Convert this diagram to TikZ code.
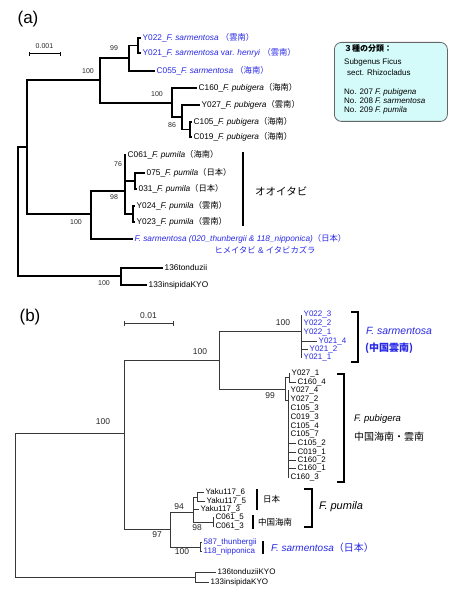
\documentclass[tikz,border=0pt]{standalone}
\usepackage{fontspec}
\setmainfont{Liberation Sans}
\newfontfamily\jp{Noto Sans CJK JP}
\definecolor{tblue}{RGB}{40,40,230}
\definecolor{boxfill}{RGB}{212,250,250}
\newcommand\mkleaf[5]{\coordinate (#1) at (#2,#3); \node[#4] (L#1) at ([xshift=1.5pt]#1) {#5};}
\begin{document}
\begin{tikzpicture}[x=1pt,y=-1pt,
  ea/.style={line width=1.7pt},
  eb/.style={line width=0.9pt,draw=black!78},
  la/.style={anchor=west,inner sep=0pt,font=\fontsize{8.3}{9}\selectfont},
  lb/.style={anchor=west,inner sep=0pt,font=\fontsize{8}{8}\selectfont},
  sa/.style={inner sep=0pt,font=\fontsize{7}{8}\selectfont,text=black!85},
  sb/.style={inner sep=0pt,font=\fontsize{8.5}{9}\selectfont,text=black!85},
  brk/.style={line width=1.8pt},
  panel/.style={inner sep=0pt,font=\fontsize{17}{18}\selectfont},
  lg/.style={anchor=west,inner sep=0pt,font=\fontsize{8}{9}\selectfont},
]
\useasboundingbox (0,0) rectangle (450,601);

% ================= panel (a) =================
\node[panel] (pa) at (28,19) {(a)};
\coordinate (sa1) at (29,54); \coordinate (sa2) at (60,54);
\draw[line width=1pt] (sa1) -- (sa2);
\draw[line width=1pt] ([yshift=-2pt]sa1) -- ([yshift=2pt]sa1);
\draw[line width=1pt] ([yshift=-2pt]sa2) -- ([yshift=2pt]sa2);
\node[sa] (sal) at (44.5,46) {0.001};

\coordinate (a0) at (18,211);
\coordinate (aIn) at (27,147);
\coordinate (aOut) at (121,276);
\coordinate (aSP) at (100,80);
\coordinate (aPm) at (91,214);
\coordinate (aSar) at (129,58);
\coordinate (aY) at (138,45.5);
\coordinate (aPb) at (172,103);
\coordinate (aPb2) at (182,117);
\coordinate (aPb3) at (190,129.5);
\coordinate (aPm2) at (125,191);
\coordinate (aP75) at (135,181);
\coordinate (aPY) at (133,214);

\mkleaf{tY022}{141}{38}{la,text=tblue}{Y022\_\textit{F. sarmentosa} {\jp （雲南）}}
\mkleaf{tY021}{141}{53}{la,text=tblue}{Y021\_\textit{F. sarmentosa} var. \textit{henryi} {\jp （雲南）}}
\mkleaf{tC055}{155}{71}{la,text=tblue}{C055\_\textit{F. sarmentosa} {\jp （海南）}}
\mkleaf{tC160}{197}{88}{la}{C160\_\textit{F. pubigera}{\jp （海南）}}
\mkleaf{tY027}{200}{105}{la}{Y027\_\textit{F. pubigera}{\jp （雲南）}}
\mkleaf{tC105}{192}{122}{la}{C105\_\textit{F. pubigera}{\jp （海南）}}
\mkleaf{tC019}{192}{137}{la}{C019\_\textit{F. pubigera}{\jp （海南）}}
\mkleaf{tC061}{126}{155}{la}{C061\_\textit{F. pumila}{\jp （海南）}}
\mkleaf{t075}{145}{173}{la}{075\_\textit{F. pumila}{\jp （日本）}}
\mkleaf{t031}{137}{189}{la}{031\_\textit{F. pumila}{\jp （日本）}}
\mkleaf{tY024}{135}{206}{la}{Y024\_\textit{F. pumila}{\jp （雲南）}}
\mkleaf{tY023}{135}{222}{la}{Y023\_\textit{F. pumila}{\jp （雲南）}}
\mkleaf{tSJ}{133}{239}{la,text=tblue}{\textit{F. sarmentosa (020\_thunbergii \& 118\_nipponica)}{\jp （日本）}}
\mkleaf{t136}{163}{268}{la}{136tonduzii}
\mkleaf{t133}{147}{285}{la}{133insipidaKYO}

\foreach \p/\c in {a0/aIn,a0/aOut,aIn/aSP,aIn/aPm,aSP/aSar,aSP/aPb,aSar/aY,aSar/tC055,
  aY/tY022,aY/tY021,aPb/tC160,aPb/aPb2,aPb2/tY027,aPb2/aPb3,aPb3/tC105,aPb3/tC019,
  aPm/aPm2,aPm/tSJ,aPm2/tC061,aPm2/aP75,aPm2/aPY,aP75/t075,aP75/t031,aPY/tY024,aPY/tY023,
  aOut/t136,aOut/t133}
  \draw[ea] (\p) |- (\c);

\node[sa] (s1) at (88,71) {100};
\node[sa] (s2) at (114,48) {99};
\node[sa] (s3) at (157,94) {100};
\node[sa] (s4) at (172,125) {86};
\node[sa] (s5) at (118,164) {76};
\node[sa] (s6) at (114,197) {98};
\node[sa] (s7) at (76,222) {100};
\node[sa] (s8) at (104,283) {100};

\draw[brk] (243,152) -- (243,226);
\node[anchor=west,inner sep=0pt,font=\jp\fontsize{10.5}{11}\selectfont] (ooi) at (255,191) {オオイタビ};
\node[inner sep=0pt,text=tblue,font=\fontsize{8.3}{9}\selectfont] (hime) at (265,250) {{\jp ヒメイタビ} \& {\jp イタビカズラ}};

\node[draw=black!60,fill=boxfill,rounded corners=7pt,line width=0.8pt,minimum width=113pt,minimum height=79pt,anchor=north west] (box) at (334,42) {};
\node[lg] (lg1) at (344,49) {{\jp\bfseries ３種の分類：}};
\node[lg] (lg2) at (344,62) {Subgenus Ficus};
\node[lg] (lg3) at (347,73) {sect. Rhizocladus};
\node[lg] (lg4) at (344,92) {No. 207 \textit{F. pubigena}};
\node[lg] (lg5) at (344,101) {No. 208 \textit{F. sarmentosa}};
\node[lg] (lg6) at (344,110) {No. 209 \textit{F. pumila}};

% ================= panel (b) =================
\node[panel] (pb) at (30,317) {(b)};
\coordinate (sb1) at (124,323); \coordinate (sb2) at (173,323);
\draw[line width=0.9pt,black!78] (sb1) -- (sb2);
\draw[line width=0.9pt,black!78] ([yshift=-2.5pt]sb1) -- ([yshift=2.5pt]sb1);
\draw[line width=0.9pt,black!78] ([yshift=-2.5pt]sb2) -- ([yshift=2.5pt]sb2);
\node[sb] (sbl) at (148.5,315.5) {0.01};

\coordinate (b0) at (15,505);
\coordinate (bIn) at (124,433);
\coordinate (bOut) at (195,577);
\coordinate (bSP) at (219,360);
\coordinate (bPm) at (170,529);
\coordinate (bSar) at (301,331);
\coordinate (bPb) at (285,389);
\coordinate (bPbA) at (289,377.5);
\coordinate (bPbB) at (288,400);
\coordinate (bPm1) at (193,512);
\coordinate (bYk) at (197,497);
\coordinate (bC61) at (213,522);
\coordinate (bSJ) at (200,547);

\mkleaf{u1}{302}{315}{lb,text=tblue}{Y022\_3}
\mkleaf{u2}{302}{323.5}{lb,text=tblue}{Y022\_2}
\mkleaf{u3}{302}{332}{lb,text=tblue}{Y022\_1}
\mkleaf{u4}{317}{341}{lb,text=tblue}{Y021\_4}
\mkleaf{u5}{308}{349}{lb,text=tblue}{Y021\_2}
\mkleaf{u6}{302}{357}{lb,text=tblue}{Y021\_1}

\mkleaf{p1}{290}{373}{lb}{Y027\_1}
\mkleaf{p2}{296}{382}{lb}{C160\_4}
\mkleaf{p3}{289}{390}{lb}{Y027\_4}
\mkleaf{p4}{289}{399}{lb}{Y027\_2}
\mkleaf{p5}{289}{408}{lb}{C105\_3}
\mkleaf{p6}{289}{417}{lb}{C019\_3}
\mkleaf{p7}{289}{426}{lb}{C105\_4}
\mkleaf{p8}{289}{434}{lb}{C105\_7}
\mkleaf{p9}{296}{443}{lb}{C105\_2}
\mkleaf{p10}{296}{452}{lb}{C019\_1}
\mkleaf{p11}{296}{460}{lb}{C160\_2}
\mkleaf{p12}{296}{468}{lb}{C160\_1}
\mkleaf{p13}{289}{477}{lb}{C160\_3}

\mkleaf{k6}{204}{492}{lb}{Yaku117\_6}
\mkleaf{k5}{205}{501}{lb}{Yaku117\_5}
\mkleaf{k3}{199}{509}{lb}{Yaku117\_3}
\mkleaf{c5}{214}{517}{lb}{C061\_5}
\mkleaf{c3}{214}{526}{lb}{C061\_3}
\mkleaf{j1}{202}{542}{lb,text=tblue}{587\_thunbergii}
\mkleaf{j2}{202}{551}{lb,text=tblue}{118\_nipponica}
\mkleaf{o1}{216}{572}{lb}{136tonduziiKYO}
\mkleaf{o2}{209}{582}{lb}{133insipidaKYO}

\foreach \p/\c in {b0/bIn,b0/bOut,bIn/bSP,bIn/bPm,bSP/bSar,bSP/bPb,
  bSar/u1,bSar/u2,bSar/u3,bSar/u4,bSar/u5,bSar/u6,
  bPb/bPbA,bPb/bPbB,bPbA/p1,bPbA/p2,
  bPbB/p3,bPbB/p4,bPbB/p5,bPbB/p6,bPbB/p7,bPbB/p8,bPbB/p9,bPbB/p10,bPbB/p11,bPbB/p12,bPbB/p13,
  bPm/bPm1,bPm/bSJ,bPm1/bYk,bPm1/k3,bPm1/bC61,bYk/k6,bYk/k5,bC61/c5,bC61/c3,
  bSJ/j1,bSJ/j2,bOut/o1,bOut/o2}
  \draw[eb] (\p) |- (\c);

\node[sb] (q1) at (103,422) {100};
\node[sb] (q2) at (200,352) {100};
\node[sb] (q3) at (283,323) {100};
\node[sb] (q4) at (270,396) {99};
\node[sb] (q5) at (157,535) {97};
\node[sb] (q6) at (179,507) {94};
\node[sb] (q7) at (197,528) {98};
\node[sb] (q8) at (182,552) {100};

\draw[brk] (351,312) -- (358,312) -- (358,362) -- (351,362);
\draw[brk] (337,374) -- (344,374) -- (344,482) -- (337,482);
\draw[brk] (304,489) -- (312,489) -- (312,527) -- (304,527);
\draw[brk] (257,489) -- (257,510);
\draw[brk] (253,515) -- (253,529);
\draw[brk] (263,541) -- (263,554);

\node[anchor=west,inner sep=0pt,text=tblue,font=\fontsize{10.5}{11}\selectfont] (nsar) at (366,331) {\textit{F. sarmentosa}};
\node[anchor=west,inner sep=0pt,text=tblue,font=\jp\bfseries\fontsize{10}{11}\selectfont] (nsar2) at (365,348) {(中国雲南)};
\node[anchor=west,inner sep=0pt,font=\fontsize{9.5}{10}\selectfont] (npub) at (354,419) {\textit{F. pubigera}};
\node[anchor=west,inner sep=0pt,font=\jp\fontsize{10}{11}\selectfont] (npub2) at (354,437) {中国海南・雲南};
\node[anchor=west,inner sep=0pt,font=\fontsize{11}{12}\selectfont] (npum) at (319,507) {\textit{F. pumila}};
\node[anchor=west,inner sep=0pt,font=\jp\fontsize{8.5}{9}\selectfont] (njp) at (263,499) {日本};
\node[anchor=west,inner sep=0pt,font=\jp\fontsize{8.5}{9}\selectfont] (ncn) at (258,522) {中国海南};
\node[anchor=west,inner sep=0pt,text=tblue,font=\fontsize{10}{11}\selectfont] (nsj) at (271,548) {\textit{F. sarmentosa}{\jp （日本）}};
\end{tikzpicture}
\end{document}
